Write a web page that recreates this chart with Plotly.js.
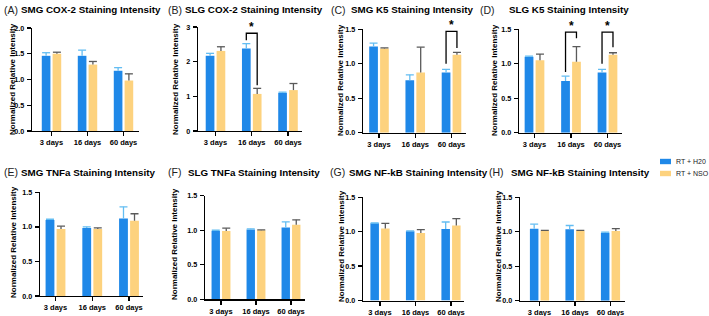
<!DOCTYPE html>
<html><head><meta charset="utf-8">
<script src="https://cdn.plot.ly/plotly-3.0.1.min.js"></script>
<style>html,body{margin:0;padding:0;background:#fff}</style>
</head><body><div id="chart" style="width:709px;height:316px"></div>
<script>
// ---------------- DATA ----------------
const categories = ['3 days', '16 days', '60 days'];
const seriesNames = ['RT + H20', 'RT + NSO'];
const panelLetters = ['(A)', '(B)', '(C)', '(D)', '(E)', '(F)', '(G)', '(H)'];
const panelTitles = ['SMG COX-2 Staining Intensity', 'SLG COX-2 Staining Intensity',
  'SMG K5 Staining Intensity', 'SLG K5 Staining Intensity',
  'SMG TNFa Staining Intensity', 'SLG TNFa Staining Intensity',
  'SMG NF-kB Staining Intensity', 'SMG NF-kB Staining Intensity'];
const yAxisTitle = 'Normalized Relative Intensity';
const yMax = [2, 3, 1.5, 1.5, 1.5, 1.5, 1.5, 1.5];
const yStep = [0.5, 1, 0.5, 0.5, 0.5, 0.5, 0.5, 0.5];
const yFormat = ['.1f', 'd', '.1f', '.1f', '.1f', '.1f', '.1f', '.1f'];

const h2oMean = [
  [1.46, 1.46, 1.17], [2.17, 2.38, 1.10], [1.25, 0.76, 0.875], [1.10, 0.75, 0.875],
  [1.10, 0.985, 1.12], [0.99, 1.01, 1.04], [1.12, 1.005, 1.04], [1.045, 1.035, 0.985]];
const h2oErr = [
  [0.06, 0.11, 0.06], [0.07, 0.14, 0.02], [0.05, 0.08, 0.045], [0.01, 0.07, 0.045],
  [0.01, 0.015, 0.17], [0.01, 0.01, 0.08], [0.005, 0.005, 0.10], [0.065, 0.055, 0.01]];
const nsoMean = [
  [1.50, 1.29, 0.98], [2.31, 1.07, 1.18], [1.22, 0.875, 1.13], [1.05, 1.03, 1.13],
  [0.97, 0.97, 1.09], [0.99, 1.00, 1.08], [1.045, 0.98, 1.09], [1.01, 1.01, 1.01]];
const nsoErr = [
  [0.03, 0.06, 0.13], [0.12, 0.16, 0.19], [0.01, 0.365, 0.035], [0.09, 0.22, 0.03],
  [0.04, 0.015, 0.10], [0.04, 0.005, 0.07], [0.075, 0.05, 0.10], [0.01, 0.01, 0.035]];

// significance brackets: panel index, category index, bracket top, left leg end, right leg end
const sigPanel = [1, 2, 3, 3];
const sigCat = [1, 2, 1, 2];
const sigTop = [2.82, 1.47, 1.46, 1.46];
const sigLeft = [2.62, 1.00, 0.88, 1.00];
const sigRight = [1.32, 1.23, 1.37, 1.24];
const sigLabel = ['*', '*', '*', '*'];

// ---------------- LAYOUT / STYLE ----------------
const W = 709, H = 316;
const px = x => x / W, py = y => 1 - y / H;
// per panel: axis-left px, first category centre px, category spacing px, right end px, top px, bottom px
const geom = [
  [32, 51.5, 36, 139, 28, 131],
  [198, 215.5, 36.25, 302, 27, 131],
  [363, 379, 36.25, 466, 29.3, 132.7],
  [519, 534.5, 36.5, 622, 29.3, 132.7],
  [40, 55.5, 36.75, 143, 192.3, 296],
  [205, 221, 35, 305, 195.7, 299.3],
  [363, 380, 35.5, 464, 197.2, 300.5],
  [520, 539.5, 35.5, 625, 197.2, 300.8]];
const letterPos = [[2, 10], [166, 10], [329, 10], [478, 10], [2, 172], [166, 172], [328, 172], [487, 172]];
const titlePos = [[19, 10], [183, 10], [349, 10], [507, 10], [19, 172], [186, 172], [347, 172], [509, 172]];
const yTitlePos = [[12, 79], [175, 79], [340, 80], [494, 80], [13, 242], [174, 244], [341, 246], [498, 246]];

const BLUE = '#1F88E8', YELLOW = '#FDD27E';
const BLUE_ERR = '#63BDF2', YELLOW_ERR = '#5a5a5a';
const FONT = 'Liberation Sans, Arial, sans-serif';
const BARGAP = 0.4, GROUPGAP = 0.2;
const off = (1 - BARGAP) / 4;

const traces = [];
const layout = {
  width: W, height: H, margin: {l: 0, r: 0, t: 0, b: 0},
  paper_bgcolor: '#fff', plot_bgcolor: '#fff',
  barmode: 'group', bargap: BARGAP, bargroupgap: GROUPGAP,
  showlegend: false, font: {family: FONT, color: '#000'},
  annotations: [], shapes: []
};

const xIdx = categories.map((c, j) => j);

function errLines(i, k, means, errs, d, color) {
  const g = geom[i];
  const cap = 4 / g[2];
  const xs = [], ys = [];
  means.forEach((m, j) => {
    const e = errs[j];
    xs.push(j + d, j + d, null, j + d - cap, j + d + cap, null);
    ys.push(m, m + e, null, m + e, m + e, null);
  });
  return {type: 'scatter', mode: 'lines', x: xs, y: ys, xaxis: 'x' + k, yaxis: 'y' + k,
    line: {color: color, width: 1.3}, hoverinfo: 'skip', showlegend: false, cliponaxis: false};
}

for (let i = 0; i < 8; i++) {
  const k = i === 0 ? '' : String(i + 1);
  const g = geom[i];
  traces.push({type: 'bar', x: xIdx, y: h2oMean[i], name: seriesNames[0], xaxis: 'x' + k, yaxis: 'y' + k,
    marker: {color: BLUE, line: {width: 0}}, showlegend: false});
  traces.push({type: 'bar', x: xIdx, y: nsoMean[i], name: seriesNames[1], xaxis: 'x' + k, yaxis: 'y' + k,
    marker: {color: YELLOW, line: {width: 0}}, showlegend: false});
  traces.push(errLines(i, k, h2oMean[i], h2oErr[i], -off, BLUE_ERR));
  traces.push(errLines(i, k, nsoMean[i], nsoErr[i], off, YELLOW_ERR));

  const axStyle = {showline: true, linecolor: '#000', linewidth: 1.3, ticks: 'outside', ticklen: 4,
    tickwidth: 1.3, tickcolor: '#000', showgrid: false, zeroline: false, fixedrange: true};
  layout['xaxis' + k] = Object.assign({}, axStyle, {
    domain: [px(g[0]), px(g[3])], range: [-(g[1] - g[0]) / g[2], (g[3] - g[1]) / g[2]],
    tickvals: xIdx, ticktext: categories, anchor: 'y' + k,
    ticklabelstandoff: i < 4 ? 0 : -1.5,
    tickfont: {family: FONT, size: 7.5, weight: 'bold', color: '#000'}});
  layout['yaxis' + k] = Object.assign({}, axStyle, {
    domain: [py(g[5]), py(g[4])], range: [0, yMax[i]], dtick: yStep[i], tick0: 0,
    tickformat: yFormat[i], anchor: 'x' + k, ticklabelstandoff: 1,
    tickfont: {family: FONT, size: 7.2, weight: 'bold', color: '#000'}});

  layout.annotations.push({xref: 'paper', yref: 'paper', x: px(letterPos[i][0]), y: py(letterPos[i][1]),
    xanchor: 'left', yanchor: 'middle', text: panelLetters[i], showarrow: false,
    font: {family: FONT, size: 10.5, color: '#222'}});
  layout.annotations.push({xref: 'paper', yref: 'paper', x: px(titlePos[i][0]), y: py(titlePos[i][1]),
    xanchor: 'left', yanchor: 'middle', text: '<b>' + panelTitles[i] + '</b>', showarrow: false,
    font: {family: FONT, size: 9.8, color: '#000'}});
  layout.annotations.push({xref: 'paper', yref: 'paper', x: px(yTitlePos[i][0]), y: py(yTitlePos[i][1]),
    xanchor: 'center', yanchor: 'middle', textangle: -90, text: '<b>' + yAxisTitle + '</b>', showarrow: false,
    font: {family: FONT, size: 8, color: '#000'}});
}

// significance brackets
sigPanel.forEach((p, n) => {
  const k = p === 0 ? '' : String(p + 1);
  const c = sigCat[n];
  traces.push({type: 'scatter', mode: 'lines', x: [c - off, c - off, c + off, c + off],
    y: [sigLeft[n], sigTop[n], sigTop[n], sigRight[n]], xaxis: 'x' + k, yaxis: 'y' + k,
    line: {color: '#000', width: 1.3}, hoverinfo: 'skip', showlegend: false, cliponaxis: false});
  layout.annotations.push({xref: 'x' + k, yref: 'y' + k, x: c, y: sigTop[n], yanchor: 'bottom',
    text: '<b>' + sigLabel[n] + '</b>', showarrow: false, yshift: -3,
    font: {family: FONT, size: 12, color: '#000'}});
});

// legend (drawn manually)
const legendY = [161.5, 173.5];
const legendColors = [BLUE, YELLOW];
seriesNames.forEach((nm, n) => {
  layout.shapes.push({type: 'rect', xref: 'paper', yref: 'paper', x0: px(660), x1: px(671),
    y0: py(legendY[n] + 2.7), y1: py(legendY[n] - 2.7), fillcolor: legendColors[n], line: {width: 0}});
  layout.annotations.push({xref: 'paper', yref: 'paper', x: px(674), y: py(legendY[n]),
    xanchor: 'left', yanchor: 'middle', text: nm, showarrow: false,
    font: {family: FONT, size: 7, color: '#222'}});
});

Plotly.newPlot('chart', traces, layout, {staticPlot: true, displayModeBar: false});
</script>
</body></html>
